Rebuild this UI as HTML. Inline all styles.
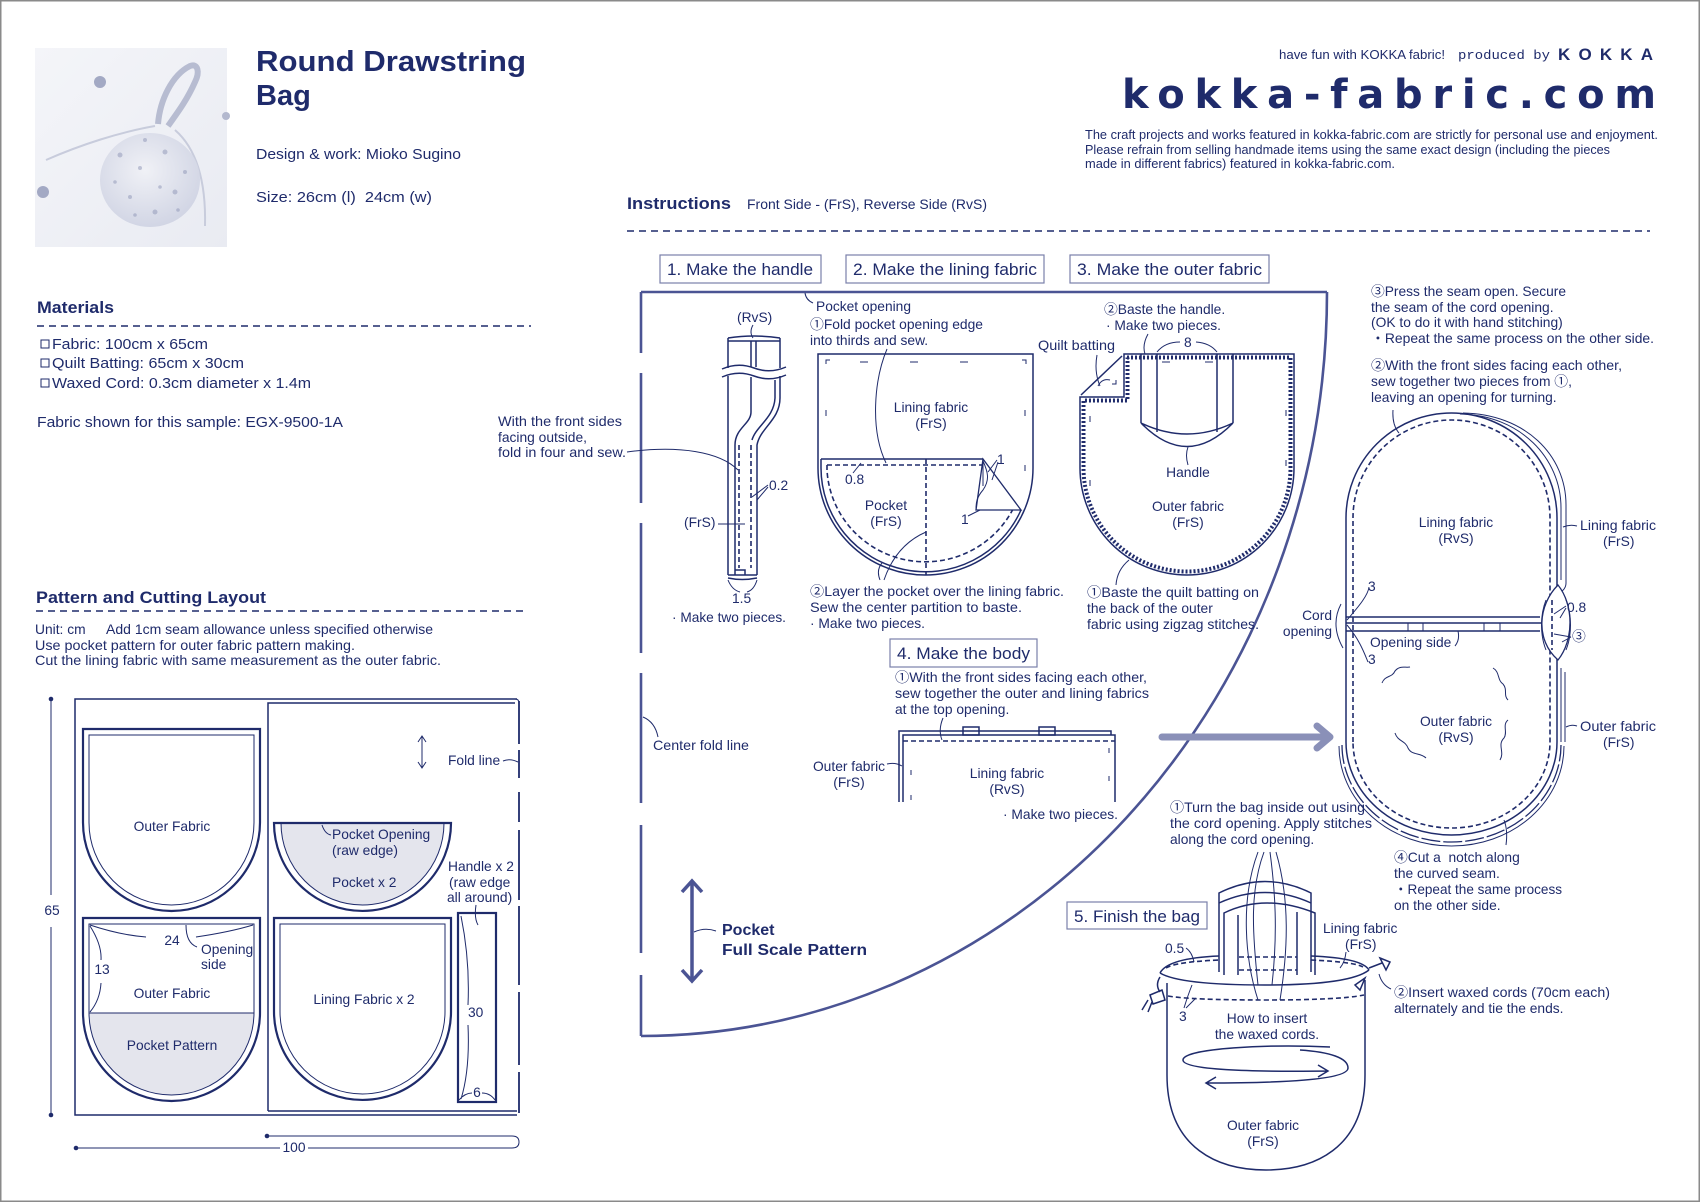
<!DOCTYPE html>
<html><head><meta charset="utf-8"><style>
html,body{margin:0;padding:0;background:#fff;}
svg{display:block;}
text{font-family:"Liberation Sans","Noto Sans CJK JP",sans-serif;fill:#1f2b6b;}
.t13{font-size:13.8px;}
.t14{font-size:14.5px;}
.b{font-weight:bold;}
.ln{fill:none;stroke:#1f2b6b;stroke-width:1.5;}
.th{fill:none;stroke:#1f2b6b;stroke-width:1;}
.tk{fill:none;stroke:#1f2b6b;stroke-width:2.2;}
.ds{fill:none;stroke:#1f2b6b;stroke-width:1.6;stroke-dasharray:5 3;}
.fr{fill:none;stroke:#4b5494;stroke-width:2.6;}
.bx{fill:#fff;stroke:#7a80aa;stroke-width:1.2;}
</style></head><body>
<svg width="1700" height="1202" viewBox="0 0 1700 1202" xmlns="http://www.w3.org/2000/svg">
<rect x="0.75" y="0.75" width="1698.5" height="1200.5" fill="#fff" stroke="#8a8a8a" stroke-width="1.5"/>

<!-- PHOTO -->
<defs>
<radialGradient id="bagg" cx="0.45" cy="0.4" r="0.65"><stop offset="0" stop-color="#f0f1f6"/><stop offset="1" stop-color="#cfd3e3"/></radialGradient>
<linearGradient id="bgg" x1="0" y1="0" x2="1" y2="1"><stop offset="0" stop-color="#f4f5f9"/><stop offset="1" stop-color="#e9ebf2"/></linearGradient>
</defs>
<rect x="35" y="48" width="192" height="199" fill="url(#bgg)"/>
<path d="M158 124 C160 100 172 75 190 66 C198 63 200 72 195 82 C187 100 178 112 168 126" fill="none" stroke="#b7bcd1" stroke-width="6"/>
<path d="M155 126 C120 132 80 145 46 160" fill="none" stroke="#c8ccdc" stroke-width="2"/>
<path d="M175 130 C198 150 206 185 205 226" fill="none" stroke="#c8ccdc" stroke-width="2"/>
<ellipse cx="150" cy="180" rx="50" ry="47" fill="url(#bagg)"/>
<g fill="#8e95b6" opacity="0.5">
<circle cx="120" cy="155" r="2.5"/><circle cx="140" cy="168" r="2"/><circle cx="165" cy="152" r="2.5"/><circle cx="175" cy="192" r="2.5"/><circle cx="130" cy="197" r="2"/><circle cx="155" cy="212" r="2.5"/><circle cx="115" cy="182" r="1.8"/><circle cx="185" cy="172" r="2"/><circle cx="145" cy="140" r="2"/><circle cx="160" cy="187" r="1.8"/><circle cx="135" cy="215" r="1.8"/><circle cx="178" cy="210" r="1.8"/>
</g>
<circle cx="100" cy="82" r="6" fill="#a3a9c4"/><circle cx="43" cy="192" r="6" fill="#a3a9c4"/><circle cx="226" cy="116" r="4" fill="#b3b8ce"/>

<!-- TITLE -->
<text x="256" y="71" class="b" font-size="29" textLength="270" lengthAdjust="spacingAndGlyphs">Round Drawstring</text>
<text x="256" y="105" class="b" font-size="29">Bag</text>
<text x="256" y="159" class="t14" textLength="205" lengthAdjust="spacingAndGlyphs">Design &amp; work: Mioko Sugino</text>
<text x="256" y="202" class="t14" textLength="176" lengthAdjust="spacingAndGlyphs" xml:space="preserve">Size: 26cm (l)  24cm (w)</text>

<!-- MATERIALS -->
<text x="37" y="313" class="b" font-size="17" textLength="77" lengthAdjust="spacingAndGlyphs">Materials</text>
<line x1="37" y1="326" x2="531" y2="326" stroke="#1f2b6b" stroke-width="1.5" stroke-dasharray="7 5"/>
<rect x="41" y="340" width="8" height="8" class="th"/>
<rect x="41" y="359" width="8" height="8" class="th"/>
<rect x="41" y="379" width="8" height="8" class="th"/>
<text x="52" y="349" class="t14" textLength="156" lengthAdjust="spacingAndGlyphs">Fabric: 100cm x 65cm</text>
<text x="52" y="368" class="t14" textLength="192" lengthAdjust="spacingAndGlyphs">Quilt Batting: 65cm x 30cm</text>
<text x="52" y="388" class="t14" textLength="259" lengthAdjust="spacingAndGlyphs">Waxed Cord: 0.3cm diameter x 1.4m</text>
<text x="37" y="427" class="t14" textLength="306" lengthAdjust="spacingAndGlyphs">Fabric shown for this sample: EGX-9500-1A</text>

<!-- HEADER RIGHT -->
<text x="1279" y="59" font-size="13" textLength="166" lengthAdjust="spacingAndGlyphs">have fun with KOKKA fabric!</text>
<text x="1458" y="59" font-size="13" style="font-family:'Liberation Mono',monospace" textLength="92" lengthAdjust="spacingAndGlyphs">produced by</text>
<text x="1558" y="60" class="b" font-size="17" textLength="95" lengthAdjust="spacing">KOKKA</text>
<text x="1122" y="108" class="b" font-size="40" textLength="534" lengthAdjust="spacing" style="font-family:'DejaVu Sans','Liberation Sans',sans-serif">kokka-fabric.com</text>
<text x="1085" y="139" font-size="12.5" textLength="573" lengthAdjust="spacingAndGlyphs">The craft projects and works featured in kokka-fabric.com are strictly for personal use and enjoyment.</text>
<text x="1085" y="154" font-size="12.5" textLength="525" lengthAdjust="spacingAndGlyphs">Please refrain from selling handmade items using the same exact design (including the pieces</text>
<text x="1085" y="168" font-size="12.5" textLength="310" lengthAdjust="spacingAndGlyphs">made in different fabrics) featured in kokka-fabric.com.</text>

<!-- INSTRUCTIONS HEADER -->
<text x="627" y="209" class="b" font-size="17" textLength="104" lengthAdjust="spacingAndGlyphs">Instructions</text>
<text x="747" y="209" font-size="13.5" textLength="240" lengthAdjust="spacingAndGlyphs">Front Side - (FrS), Reverse Side (RvS)</text>
<line x1="627" y1="231" x2="1650" y2="231" stroke="#1f2b6b" stroke-width="1.5" stroke-dasharray="7 5"/>

<!-- POCKET FULL SCALE FRAME -->
<path class="fr" d="M641 292 L1327 292"/>
<path class="fr" d="M641 1036 A686 744 0 0 0 1327 292"/>
<path class="fr" d="M641 292 L641 353 M641 373 L641 503 M641 523 L641 653 M641 673 L641 803 M641 825 L641 953 M641 975 L641 1036"/>

<!-- STEP BOXES -->
<rect x="660" y="255" width="161" height="28" class="bx"/>
<text x="667" y="275" font-size="16.5" textLength="146" lengthAdjust="spacingAndGlyphs">1. Make the handle</text>
<rect x="846" y="255" width="198" height="28" class="bx"/>
<text x="853" y="275" font-size="16.5" textLength="184" lengthAdjust="spacingAndGlyphs">2. Make the lining fabric</text>
<rect x="1070" y="255" width="199" height="28" class="bx"/>
<text x="1077" y="275" font-size="16.5" textLength="185" lengthAdjust="spacingAndGlyphs">3. Make the outer fabric</text>
<rect x="890" y="639" width="147" height="28" class="bx"/>
<text x="897" y="659" font-size="16.5" textLength="133" lengthAdjust="spacingAndGlyphs">4. Make the body</text>
<rect x="1067" y="902" width="140" height="27" class="bx"/>
<text x="1074" y="922" font-size="16.5" textLength="126" lengthAdjust="spacingAndGlyphs">5. Finish the bag</text>

<!-- STEP 1 HANDLE -->
<path class="ln" d="M728 338 Q754 334 780 338 M728 341 L780 341"/>
<path class="ln" d="M728 338 L728 368 M780 338 L780 368 M751 341 L751 367 M756 341 L756 367"/>
<path class="ln" d="M722 369 Q738 362 754 368 Q770 374 786 367 M722 377 Q738 370 754 376 Q770 382 786 375"/>
<path class="ln" d="M728 376 L728 575 M780 376 L780 398 C780 420 760 428 757 445 L757 575"/>
<path class="ln" d="M775 380 L775 398 C774 418 756 426 752 440"/>
<path class="ln" d="M751 377 L751 412 C751 424 735 428 735 445 L735 575"/>
<path class="ln" d="M728 575 L757 575 M728 578 Q742 581 757 578 M735 570 L745 570 L745 575"/>
<path class="ds" d="M739 445 L739 568 M751 445 L751 568"/>
<text x="737" y="322" class="t13">(RvS)</text>
<path class="th" d="M753 325 Q749 332 753 338"/>
<text x="498" y="426" class="t13" textLength="124" lengthAdjust="spacingAndGlyphs">With the front sides</text>
<text x="498" y="442" class="t13">facing outside,</text>
<text x="498" y="457" class="t13" textLength="128" lengthAdjust="spacingAndGlyphs">fold in four and sew.</text>
<path class="th" d="M627 452 C680 445 720 452 738 470"/>
<text x="769" y="490" class="t13">0.2</text>
<path class="th" d="M768 485 L752 497 M768 487 L757 500"/>
<text x="684" y="527" class="t13">(FrS)</text>
<path class="th" d="M718 524 L745 524"/>
<text x="732" y="603" class="t13">1.5</text>
<path class="th" d="M728 580 Q732 590 740 592 M757 580 Q754 590 747 592"/>
<text x="672" y="622" class="t13" textLength="114" lengthAdjust="spacingAndGlyphs">· Make two pieces.</text>

<!-- STEP 2 LINING -->
<text x="816" y="311" class="t13" textLength="95" lengthAdjust="spacingAndGlyphs">Pocket opening</text>
<path class="th" d="M805 293 Q806 300 813 303"/>
<text x="810" y="329" class="t13" textLength="173" lengthAdjust="spacingAndGlyphs">①Fold pocket opening edge</text>
<text x="810" y="345" class="t13">into thirds and sew.</text>
<path class="th" d="M887 349 C874 380 870 430 886 463"/>
<path class="ln" d="M818 354 L1033 354 L1033 468 A107.5 107 0 0 1 818 468 Z"/>
<path class="th" d="M826 364 L826 360 L830 360 M860 362 L868 362 M910 362 L918 362 M960 362 L968 362 M1022 360 L1026 360 L1026 364 M826 410 L826 416 M1025 410 L1025 416 M1025 465 L1025 471"/>
<path class="ln" d="M821 459 L983 459 M821 459 L821 468 A104.5 104 0 0 0 1021 510"/>
<path class="ds" d="M827 465 L983 465 M827 465 L827 470 A98.5 97 0 0 0 1015 505"/>
<path class="ds" d="M926 459 L926 575"/>
<path fill="#fff" stroke="#1f2b6b" stroke-width="1.3" d="M983 459 L1021 510 L976 510 Z"/>
<path class="th" d="M983 461 C988 472 990 480 983 490 C976 498 976 504 976 510 M983 461 L983 486"/>
<text x="931" y="412" class="t13" text-anchor="middle">Lining fabric</text>
<text x="931" y="428" class="t13" text-anchor="middle">(FrS)</text>
<text x="845" y="484" class="t13">0.8</text>
<path class="th" d="M853 473 L861 463"/>
<text x="886" y="510" class="t13" text-anchor="middle">Pocket</text>
<text x="886" y="526" class="t13" text-anchor="middle">(FrS)</text>
<text x="997" y="464" class="t13">1</text>
<path class="th" d="M997 460 L988 472 M998 462 L992 480"/>
<text x="961" y="524" class="t13">1</text>
<path class="th" d="M968 516 L980 510"/>
<text x="810" y="596" class="t13" textLength="254" lengthAdjust="spacingAndGlyphs">②Layer the pocket over the lining fabric.</text>
<text x="810" y="612" class="t13" textLength="212" lengthAdjust="spacingAndGlyphs">Sew the center partition to baste.</text>
<text x="810" y="628" class="t13">· Make two pieces.</text>
<path class="th" d="M880 580 Q876 570 882 563 M884 580 Q896 545 926 532"/>

<!-- STEP 3 OUTER -->
<text x="1104" y="314" class="t13">②Baste the handle.</text>
<text x="1106" y="330" class="t13">· Make two pieces.</text>
<path class="th" d="M1148 334 Q1142 345 1145 354"/>
<text x="1038" y="350" class="t13" textLength="77" lengthAdjust="spacingAndGlyphs">Quilt batting</text>
<path class="th" d="M1097 355 Q1094 372 1100 386"/>
<path class="ln" d="M1124 354 L1294 354 L1294 468 A107 107 0 0 1 1080 468 L1080 397 L1124 397 Z"/>
<path fill="none" stroke="#1f2b6b" stroke-width="4" stroke-dasharray="2 2" d="M1127 357.5 L1290.5 357.5 L1290.5 468 A103.5 103.5 0 0 1 1083.5 468 L1083.5 400.5 L1127.5 400.5 L1127.5 357.5"/>
<path class="ln" d="M1122 356 L1081 395"/>
<path class="th" d="M1098 386 Q1102 378 1110 380 M1112 384 L1116 384 L1116 380"/>
<path class="ln" d="M1141 354 L1141 423 M1233 354 L1233 423 M1157 354 L1157 432 M1217 354 L1217 432"/>
<path class="ln" d="M1141 423 Q1187 470 1233 423 M1141 423 Q1187 445 1233 423"/>
<path class="th" d="M1162 362 L1170 362 M1205 362 L1213 362"/>
<text x="1184" y="347" class="t13">8</text>
<path class="th" d="M1157 352 Q1165 342 1180 342 M1196 342 Q1210 343 1217 352"/>
<text x="1188" y="477" class="t13" text-anchor="middle">Handle</text>
<path class="th" d="M1188 465 Q1185 455 1188 447"/>
<text x="1188" y="511" class="t13" text-anchor="middle">Outer fabric</text>
<text x="1188" y="527" class="t13" text-anchor="middle">(FrS)</text>
<path class="th" d="M1090 416 L1090 422 M1286 410 L1286 416 M1286 460 L1286 466 M1090 480 L1090 486"/>
<text x="1087" y="597" class="t13" textLength="172" lengthAdjust="spacingAndGlyphs">①Baste the quilt batting on</text>
<text x="1087" y="613" class="t13">the back of the outer</text>
<text x="1087" y="629" class="t13" textLength="172" lengthAdjust="spacingAndGlyphs">fabric using zigzag stitches.</text>
<path class="th" d="M1116 585 Q1117 570 1129 560"/>

<!-- STEP 4 BODY -->
<text x="895" y="682" class="t13" textLength="252" lengthAdjust="spacingAndGlyphs">①With the front sides facing each other,</text>
<text x="895" y="698" class="t13" textLength="254" lengthAdjust="spacingAndGlyphs">sew together the outer and lining fabrics</text>
<text x="895" y="714" class="t13">at the top opening.</text>
<path class="th" d="M943 718 Q938 730 942 740"/>
<path class="ln" d="M899 802 L899 731 L1111 731 L1111 735 M903 802 L903 735 L1115 735 L1115 802"/>
<rect x="963" y="727" width="16" height="8" class="ln"/>
<rect x="1039" y="727" width="16" height="8" class="ln"/>
<path class="ds" d="M903 741 L1115 741"/>
<path class="th" d="M911 770 L911 775 M911 795 L911 800 M1109 748 L1109 753 M1109 776 L1109 781"/>
<text x="849" y="771" class="t13" text-anchor="middle">Outer fabric</text>
<text x="849" y="787" class="t13" text-anchor="middle">(FrS)</text>
<path class="th" d="M887 764 Q895 762 902 766"/>
<text x="1007" y="778" class="t13" text-anchor="middle">Lining fabric</text>
<text x="1007" y="794" class="t13" text-anchor="middle">(RvS)</text>
<text x="1003" y="819" class="t13">· Make two pieces.</text>
<text x="653" y="750" class="t13" textLength="96" lengthAdjust="spacingAndGlyphs">Center fold line</text>
<path class="th" d="M643 717 Q655 722 658 737"/>
<path fill="none" stroke="#4b5494" stroke-width="3.5" d="M692 881 L692 981 M682 892 L692 881 L702 892 M682 970 L692 981 L702 970"/>
<path class="th" d="M694 932 Q705 927 716 931"/>
<text x="722" y="935" class="b" font-size="16">Pocket</text>
<text x="722" y="955" class="b" font-size="16" textLength="145" lengthAdjust="spacingAndGlyphs">Full Scale Pattern</text>

<!-- BIG ARROW -->
<path fill="none" stroke="#8a90b8" stroke-width="7" stroke-linecap="round" stroke-linejoin="round" d="M1162 737 L1328 737 M1317 726 L1330 737 L1317 748"/>

<!-- RIGHT BAG -->
<text x="1371" y="296" class="t13" textLength="195" lengthAdjust="spacingAndGlyphs">③Press the seam open. Secure</text>
<text x="1371" y="312" class="t13">the seam of the cord opening.</text>
<text x="1371" y="327" class="t13">(OK to do it with hand stitching)</text>
<text x="1371" y="343" class="t13" textLength="283" lengthAdjust="spacingAndGlyphs">・Repeat the same process on the other side.</text>
<text x="1371" y="370" class="t13" textLength="251" lengthAdjust="spacingAndGlyphs">②With the front sides facing each other,</text>
<text x="1371" y="386" class="t13">sew together two pieces from ①,</text>
<text x="1371" y="402" class="t13">leaving an opening for turning.</text>
<path class="th" d="M1393 410 Q1392 425 1399 433"/>
<path class="ln" d="M1346 742 L1346 518 A105.5 105 0 0 1 1557 518 L1557 742 A105.5 93 0 0 1 1346 742"/>
<path class="th" d="M1460 414 C1520 415 1561 458 1561 508 L1561 580 M1463 413 C1525 414 1566 455 1566 505 L1566 583 C1566 590 1560 592 1557 596"/>
<path class="th" d="M1561 668 L1561 742 M1565 672 L1565 742"/>
<path class="ds" d="M1353 742 L1353 518 A98.5 98 0 0 1 1550 518 L1550 742 A98.5 86 0 0 1 1353 742"/>
<path fill="none" stroke="#1f2b6b" stroke-width="1.3" stroke-dasharray="19 3" d="M1342 745 A109.5 97 0 0 0 1561 745"/>
<path class="th" d="M1339 746 A112.5 100 0 0 0 1564 746"/>
<path class="ln" d="M1346 617 L1540 617 M1346 623 L1557 623 M1346 631 L1540 631"/>
<path class="th" d="M1408 623 L1408 631 M1423 623 L1423 631 M1484 623 L1484 631 M1500 623 L1500 631"/>
<path fill="#fff" stroke="#1f2b6b" stroke-width="1.3" d="M1558 585 C1538 605 1535 640 1558 660 C1574 640 1574 605 1558 585 Z"/>
<path class="ds" d="M1552 600 L1552 650"/>
<path class="th" d="M1546 600 C1540 615 1540 635 1546 650 M1566 600 C1572 615 1572 635 1566 650"/>
<path class="th" d="M1382 683 C1385 675 1392 678 1395 671 C1400 665 1405 668 1410 667 M1493 668 C1500 672 1497 680 1503 684 C1508 690 1503 695 1508 700 M1395 733 C1398 742 1405 740 1408 748 C1412 756 1420 752 1426 758 M1500 760 C1505 752 1497 745 1504 738 C1508 732 1502 725 1508 720"/>
<text x="1456" y="527" class="t13" text-anchor="middle">Lining fabric</text>
<text x="1456" y="543" class="t13" text-anchor="middle">(RvS)</text>
<text x="1580" y="530" class="t13" textLength="76" lengthAdjust="spacingAndGlyphs">Lining fabric</text>
<text x="1603" y="546" class="t13">(FrS)</text>
<path class="th" d="M1563 527 Q1570 524 1577 526"/>
<text x="1332" y="620" class="t13" text-anchor="end">Cord</text>
<text x="1332" y="636" class="t13" text-anchor="end">opening</text>
<path class="th" d="M1341 604 Q1330 625 1343 648 M1347 620 C1360 605 1368 595 1369 587 M1347 625 C1360 640 1365 655 1368 662"/>
<text x="1368" y="591" class="t13">3</text>
<text x="1368" y="664" class="t13">3</text>
<text x="1370" y="647" class="t13">Opening side</text>
<path class="th" d="M1455 646 Q1460 640 1458 631"/>
<text x="1567" y="612" class="t13">0.8</text>
<path class="th" d="M1566 606 L1554 614 M1566 608 L1560 618"/>
<text x="1572" y="641" class="t13">③</text>
<path class="th" d="M1571 637 L1554 634 M1571 637 L1562 642"/>
<text x="1456" y="726" class="t13" text-anchor="middle">Outer fabric</text>
<text x="1456" y="742" class="t13" text-anchor="middle">(RvS)</text>
<text x="1580" y="731" class="t13" textLength="76" lengthAdjust="spacingAndGlyphs">Outer fabric</text>
<text x="1603" y="747" class="t13">(FrS)</text>
<path class="th" d="M1566 727 Q1572 724 1577 726"/>
<text x="1394" y="862" class="t13" xml:space="preserve">④Cut a  notch along</text>
<text x="1394" y="878" class="t13">the curved seam.</text>
<text x="1394" y="894" class="t13" textLength="168" lengthAdjust="spacingAndGlyphs">・Repeat the same process</text>
<text x="1394" y="910" class="t13">on the other side.</text>
<path class="th" d="M1506 845 Q1508 830 1504 820"/>

<!-- STEP 5 FINISH -->
<text x="1170" y="812" class="t13" textLength="195" lengthAdjust="spacingAndGlyphs">①Turn the bag inside out using</text>
<text x="1170" y="828" class="t13" textLength="202" lengthAdjust="spacingAndGlyphs">the cord opening. Apply stitches</text>
<text x="1170" y="844" class="t13">along the cord opening.</text>
<path class="ln" d="M1219 972 L1219 893 Q1265 870 1311 893 L1311 972"/>
<path class="ln" d="M1219 903 Q1265 882 1311 903"/>
<path class="ln" d="M1224 975 L1224 913 Q1265 893 1315 913 L1315 975"/>
<path class="ln" d="M1238 915 L1238 975 M1297 912 L1297 975"/>
<path class="ds" d="M1239 957 L1297 957 M1239 970 L1297 970"/>
<path class="ln" d="M1160 973 Q1168 958 1219 956 M1311 956 Q1362 958 1369 970"/>
<path class="ds" d="M1166 968 Q1175 962 1219 960 M1311 960 Q1355 962 1363 967"/>
<path class="ln" d="M1160 973 Q1180 985 1265 985 Q1350 985 1369 970"/>
<path class="ln" d="M1167 983 L1167 1075 C1167 1150 1220 1170 1266 1170 C1312 1170 1365 1150 1365 1075 L1365 980"/>
<path class="ds" d="M1168 996 Q1190 1000 1266 1000 Q1340 1000 1364 995"/>
<path class="ln" d="M1160 977 Q1155 985 1160 992 M1150 995 L1162 990 L1165 1000 L1153 1004 Z M1148 1000 L1142 1010 M1152 1002 L1148 1012"/>
<path class="ln" d="M1369 968 L1382 963 M1380 958 L1390 962 L1386 970 Z M1355 985 L1365 978 L1360 990 Z"/>
<path class="th" d="M1264 852 C1250 890 1252 930 1258 985 M1270 852 C1275 890 1278 930 1272 985 M1258 852 C1240 900 1245 960 1258 1000 M1276 852 C1290 900 1288 950 1280 1000"/>
<text x="1323" y="933" class="t13">Lining fabric</text>
<text x="1345" y="949" class="t13">(FrS)</text>
<path class="th" d="M1346 952 Q1345 962 1340 968"/>
<text x="1165" y="953" class="t13">0.5</text>
<path class="th" d="M1186 948 Q1192 952 1194 962"/>
<text x="1179" y="1021" class="t13">3</text>
<path class="th" d="M1184 1008 Q1188 995 1192 985 M1186 1008 Q1192 1002 1196 998"/>
<text x="1267" y="1023" class="t13" text-anchor="middle">How to insert</text>
<text x="1267" y="1039" class="t13" text-anchor="middle">the waxed cords.</text>
<path class="ln" d="M1330 1047 C1270 1044 1183 1048 1183 1060 C1183 1070 1250 1072 1328 1071 M1318 1065 L1328 1071 L1318 1077"/>
<path class="ln" d="M1300 1050 C1330 1052 1348 1058 1348 1068 C1348 1080 1280 1083 1206 1083 M1216 1077 L1206 1083 L1216 1089"/>
<text x="1263" y="1130" class="t13" text-anchor="middle">Outer fabric</text>
<text x="1263" y="1146" class="t13" text-anchor="middle">(FrS)</text>
<text x="1394" y="997" class="t13" textLength="216" lengthAdjust="spacingAndGlyphs">②Insert waxed cords (70cm each)</text>
<text x="1394" y="1013" class="t13">alternately and tie the ends.</text>
<path class="th" d="M1391 989 Q1382 985 1379 974"/>

<!-- PATTERN AND CUTTING LAYOUT -->
<text x="36" y="603" class="b" font-size="17" textLength="230" lengthAdjust="spacingAndGlyphs">Pattern and Cutting Layout</text>
<line x1="36" y1="611" x2="527" y2="611" stroke="#1f2b6b" stroke-width="1.5" stroke-dasharray="7 5"/>
<text x="35" y="634" class="t13">Unit: cm</text>
<text x="106" y="634" class="t13" textLength="327" lengthAdjust="spacingAndGlyphs">Add 1cm seam allowance unless specified otherwise</text>
<text x="35" y="650" class="t13" textLength="320" lengthAdjust="spacingAndGlyphs">Use pocket pattern for outer fabric pattern making.</text>
<text x="35" y="665" class="t13" textLength="406" lengthAdjust="spacingAndGlyphs">Cut the lining fabric with same measurement as the outer fabric.</text>

<path class="ln" d="M517 699 L75 699 L75 1115 L517 1115"/>
<path class="ln" d="M268 1111 L268 703 L515 703"/>
<path class="ln" d="M268 1111 L517 1111"/>
<path fill="none" stroke="#1f2b6b" stroke-width="1.8" d="M519 701 L519 744 M519 750 L519 778 M519 792 L519 822 M519 830 L519 900 M519 906 L519 985 M519 992 L519 1065 M519 1072 L519 1113"/>
<path class="th" d="M515 699 Q519 699 519 703"/>

<path class="tk" d="M83 729 L260 729 L260 822.5 A88.5 88.5 0 0 1 83 822.5 Z"/>
<path class="th" d="M89 735 L254 735 L254 822.5 A82.5 82.5 0 0 1 89 822.5 Z"/>
<text x="172" y="831" class="t13" text-anchor="middle">Outer Fabric</text>

<path fill="#e4e5ed" d="M89 1013 L254 1013 L254 1012.5 A82.5 82.5 0 0 1 89 1012.5 Z"/>
<path class="tk" d="M83 918 L260 918 L260 1012.5 A88.5 88.5 0 0 1 83 1012.5 Z"/>
<path class="th" d="M89 924 L254 924 L254 1012.5 A82.5 82.5 0 0 1 89 1012.5 Z M89 1013 L254 1013"/>
<path class="th" d="M90 925 Q120 935 146 937 M196 937 Q230 932 253 925 M90 926 Q102 945 101 960 M101 983 Q100 1000 90 1012 M186 925 Q186 943 197 947"/>
<text x="172" y="945" class="t13" text-anchor="middle">24</text>
<text x="201" y="954" class="t13">Opening</text>
<text x="201" y="969" class="t13">side</text>
<text x="102" y="974" class="t13" text-anchor="middle">13</text>
<text x="172" y="998" class="t13" text-anchor="middle">Outer Fabric</text>
<text x="172" y="1050" class="t13" text-anchor="middle">Pocket Pattern</text>

<path fill="#e4e5ed" d="M281 823 L444 823 A81.5 82 0 0 1 281 823 Z"/>
<path class="tk" d="M274 823 L451 823 A88.5 88 0 0 1 274 823 Z"/>
<path class="th" d="M281 823 A81.5 82 0 0 0 444 823"/>
<path class="th" d="M322 825 Q325 834 331 835"/>
<text x="332" y="839" class="t13">Pocket Opening</text>
<text x="332" y="855" class="t13">(raw edge)</text>
<text x="332" y="887" class="t13">Pocket x 2</text>

<path class="tk" d="M274 918 L451 918 L451 1011.5 A88.5 88.5 0 0 1 274 1011.5 Z"/>
<path class="th" d="M280 924 L445 924 L445 1011.5 A82.5 82.5 0 0 1 280 1011.5 Z"/>
<text x="364" y="1004" class="t13" text-anchor="middle">Lining Fabric x 2</text>

<rect x="458" y="913" width="38" height="189" class="tk"/>
<path class="th" d="M461 916 Q470 960 468 1005 M468 1025 Q470 1070 461 1099 M459 1100 Q465 1093 472 1093 M482 1093 Q490 1093 495 1100 M476 905 Q474 918 478 925"/>
<text x="468" y="1017" class="t13">30</text>
<text x="477" y="1097" class="t13" text-anchor="middle">6</text>
<text x="448" y="871" class="t13">Handle x 2</text>
<text x="449" y="887" class="t13">(raw edge</text>
<text x="447" y="902" class="t13">all around)</text>

<path class="th" d="M422 737 L422 767 M418 742 L422 736 L426 742 M418 762 L422 768 L426 762"/>
<text x="448" y="765" class="t13">Fold line</text>
<path class="th" d="M503 761 Q510 758 518 762"/>

<path class="th" d="M51 699 L51 895 M51 927 L51 1115"/>
<circle cx="51" cy="699" r="2.3" fill="#1f2b6b"/><circle cx="51" cy="1115" r="2.3" fill="#1f2b6b"/>
<text x="52" y="915" class="t13" text-anchor="middle">65</text>
<path class="th" d="M76 1148 L280 1148 M308 1148 L512 1148 Q519 1148 519 1142 Q519 1136 512 1136 L267 1136"/>
<circle cx="76" cy="1148" r="2.3" fill="#1f2b6b"/><circle cx="267" cy="1136" r="2.3" fill="#1f2b6b"/>
<text x="294" y="1152" class="t13" text-anchor="middle">100</text>
</svg>
</body></html>
